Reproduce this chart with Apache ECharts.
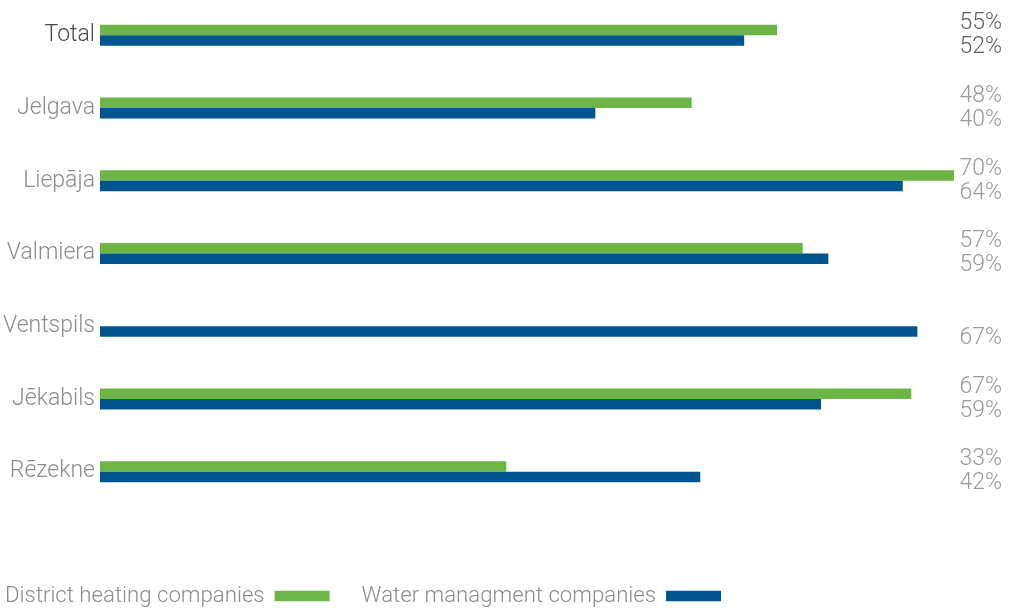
<!DOCTYPE html>
<html>
<head>
<meta charset="utf-8">
<script src="https://cdn.jsdelivr.net/npm/echarts@6/dist/echarts.min.js"></script>
<style>
html,body{margin:0;padding:0;background:#fff;}
#chart{width:1011px;height:608px;}
</style>
</head>
<body>
<div id="chart"></div>
<script>
const categories = ['Total', 'Jelgava', 'Liepāja', 'Valmiera', 'Ventspils', 'Jēkabils', 'Rēzekne'];
const heating = [55.5, 48.5, 70, 57.6, null, 66.5, 33.3];
const water = [52.8, 40.6, 65.8, 59.7, 67.0, 59.1, 49.2];
const heatingLabels = ['55%', '48%', '70%', '57%', '', '67%', '33%'];
const waterLabels = ['52%', '40%', '64%', '59%', '67%', '59%', '42%'];
const seriesNames = ['District heating companies', 'Water managment companies'];

const FONT = 'Roboto, sans-serif';
const W = 300;
const chart = echarts.init(document.getElementById('chart'));
chart.setOption({
  animation: false,
  textStyle: { fontFamily: FONT, fontWeight: W },
  grid: { left: 100, right: 57, top: -1, bottom: 100, containLabel: false, outerBoundsMode: 'none' },
  legend: {
    left: 5, top: 585, align: 'right', icon: 'rect', padding: 0,
    itemWidth: 55, itemHeight: 10.5, itemGap: 32,
    selectedMode: false,
    textStyle: { fontFamily: FONT, fontWeight: W, fontSize: 22.2, color: '#8c8c8c', padding: [0, 5, 0, 0] },
    data: seriesNames
  },
  xAxis: { type: 'value', min: 0, max: 70, show: false },
  yAxis: [
    {
      type: 'category', inverse: true, data: categories,
      axisLine: { show: false }, axisTick: { show: false },
      axisLabel: {
        margin: 5, fontSize: 23, color: '#8c8c8c', fontFamily: FONT, fontWeight: W,
        formatter: (v, i) => i === 0 ? '{t|' + v + '}' : v,
        rich: { t: { fontSize: 23, color: '#4a4a4a', fontFamily: FONT, fontWeight: W } }
      }
    },
    {
      type: 'category', inverse: true, position: 'right', data: categories,
      axisLine: { show: false }, axisTick: { show: false },
      axisLabel: {
        margin: 48, align: 'right', fontFamily: FONT, fontWeight: W,
        formatter: (v, i) => {
          const s = i === 0 ? 'T' : '';
          return '{g' + s + '|' + heatingLabels[i] + '}\n{b' + s + '|' + waterLabels[i] + '}';
        },
        rich: {
          g: { fontSize: 23, lineHeight: 24, color: '#9a9a9a', fontFamily: FONT, fontWeight: W },
          b: { fontSize: 23, lineHeight: 24, color: '#9a9a9a', fontFamily: FONT, fontWeight: W },
          gT: { fontSize: 23, lineHeight: 24, color: '#5e5e5e', fontFamily: FONT, fontWeight: W },
          bT: { fontSize: 23, lineHeight: 24, color: '#5e5e5e', fontFamily: FONT, fontWeight: W }
        }
      }
    }
  ],
  series: [
    { name: seriesNames[0], type: 'bar', data: heating, barWidth: 10.5, barGap: '0%',
      itemStyle: { color: '#6db545' } },
    { name: seriesNames[1], type: 'bar', data: water, barWidth: 10.5, barGap: '0%',
      itemStyle: { color: '#00558f' } }
  ]
});
</script>
</body>
</html>
